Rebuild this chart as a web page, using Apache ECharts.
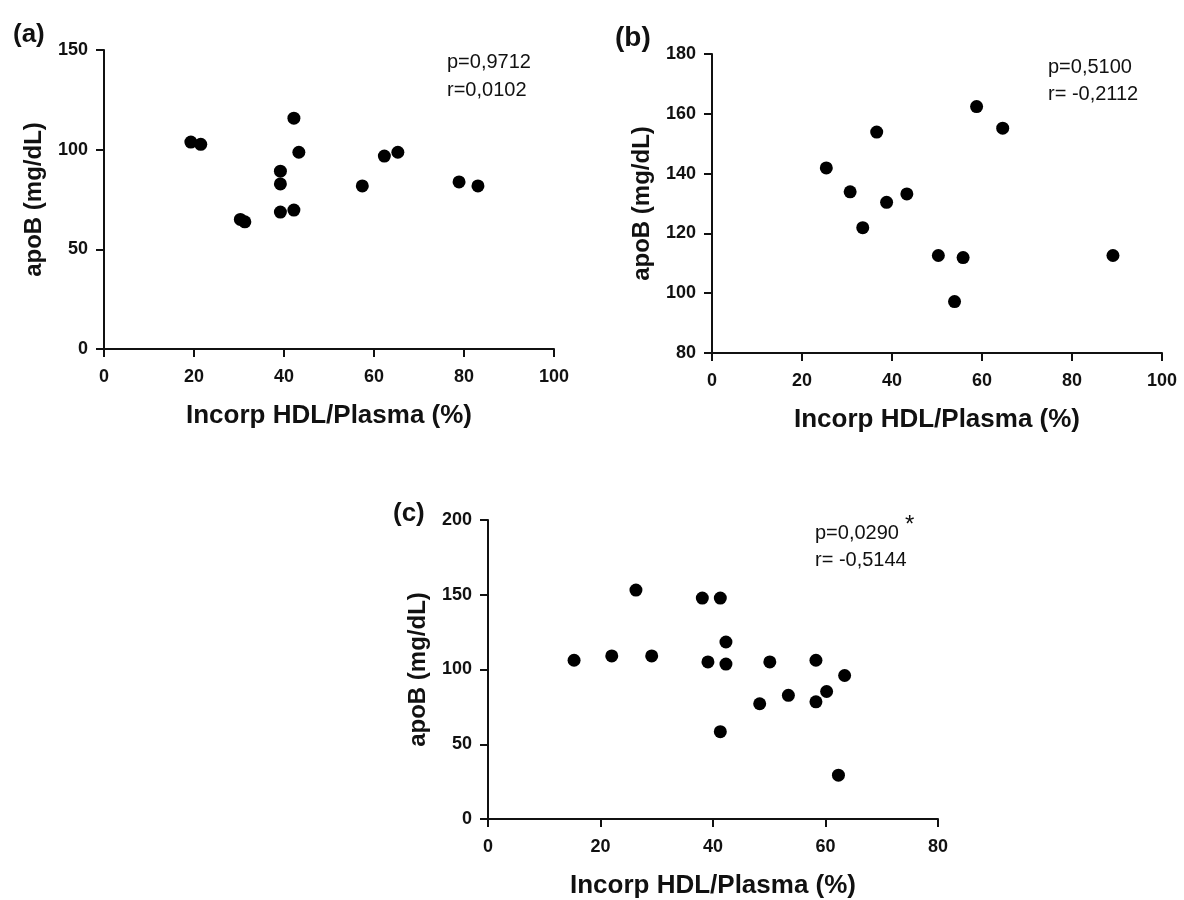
<!DOCTYPE html>
<html>
<head>
<meta charset="utf-8">
<script src="https://cdn.jsdelivr.net/npm/echarts@6/dist/echarts.min.js"></script>
<style>
  html, body { margin: 0; padding: 0; background: #fff; }
  #chart { width: 1184px; height: 900px; }
</style>
</head>
<body>
<div id="chart"></div>
<script>
// panel (a)
var aX = [19.3, 21.5, 30.3, 31.3, 39.2, 39.2, 39.2, 42.2, 42.2, 43.3, 57.4, 62.3, 65.3, 78.9, 83.1];
var aY = [103.8, 102.7, 65, 63.8, 89.2, 82.8, 68.7, 115.8, 69.7, 98.7, 81.8, 96.8, 98.7, 83.8, 81.8];
// panel (b)
var bX = [25.4, 30.7, 33.5, 36.6, 38.8, 43.3, 50.3, 53.9, 55.8, 58.8, 64.6, 89.1];
var bY = [141.9, 133.9, 121.9, 153.9, 130.4, 133.2, 112.6, 97.2, 111.9, 162.4, 155.2, 112.6];
// panel (c)
var cX = [15.3, 22.0, 26.3, 29.1, 38.1, 39.1, 41.3, 41.3, 42.3, 42.3, 48.3, 50.1, 53.4, 58.3, 58.3, 60.2, 63.4, 62.3];
var cY = [106.2, 109.1, 153.1, 109.1, 147.8, 105.1, 147.8, 58.4, 118.4, 103.6, 77.1, 105.1, 82.7, 106.2, 78.4, 85.3, 96.0, 29.3];

var panelLabels = ['(a)', '(b)', '(c)'];
var pTexts = ['p=0,9712', 'p=0,5100', 'p=0,0290'];
var rTexts = ['r=0,0102', 'r= -0,2112', 'r= -0,5144'];
var xName = 'Incorp HDL/Plasma (%)';
var yName = 'apoB (mg/dL)';

var FONT = "'Liberation Sans', Arial, sans-serif";
var INK = '#111';

function zip(xs, ys) {
    var out = [];
    for (var i = 0; i < xs.length; i++) out.push([xs[i], ys[i]]);
    return out;
}

function xAxisOf(idx, max) {
    return {
        type: 'value', gridIndex: idx, min: 0, max: max, interval: 20,
        name: xName, nameLocation: 'middle', nameGap: 54,
        nameTextStyle: { fontFamily: FONT, fontSize: 26, fontWeight: 'bold', color: INK },
        axisLine: { onZero: false, lineStyle: { color: '#111', width: 2 } },
        axisTick: { length: 8, lineStyle: { color: '#111', width: 2 } },
        axisLabel: { fontFamily: FONT, fontSize: 18, fontWeight: 'bold', color: INK, margin: 19 },
        splitLine: { show: false }
    };
}

function yAxisOf(idx, min, max, step) {
    return {
        type: 'value', gridIndex: idx, min: min, max: max, interval: step,
        name: yName, nameLocation: 'middle', nameGap: 58,
        nameTextStyle: { fontFamily: FONT, fontSize: 24, fontWeight: 'bold', color: INK },
        axisLine: { show: true, onZero: false, lineStyle: { color: '#111', width: 2 } },
        axisTick: { show: true, length: 8, lineStyle: { color: '#111', width: 2 } },
        axisLabel: { fontFamily: FONT, fontSize: 18, fontWeight: 'bold', color: INK, margin: 16 },
        splitLine: { show: false }
    };
}

function scatterOf(idx, xs, ys) {
    return {
        type: 'scatter', xAxisIndex: idx, yAxisIndex: idx,
        data: zip(xs, ys), symbol: 'circle', symbolSize: 13,
        itemStyle: { color: '#000', opacity: 1 }, silent: true
    };
}

function label(text, x, y, size, weight) {
    return {
        type: 'text', x: x, y: y, silent: true,
        style: { text: text, fill: INK, font: (weight || 'normal') + ' ' + size + 'px ' + FONT, verticalAlign: 'middle' }
    };
}

var chart = echarts.init(document.getElementById('chart'));
chart.setOption({
    backgroundColor: '#fff',
    animation: false,
    grid: [
        { left: 104, top: 50, width: 450, height: 299 },
        { left: 712, top: 54, width: 450, height: 299 },
        { left: 488, top: 520, width: 450, height: 300 }
    ],
    xAxis: [xAxisOf(0, 100), xAxisOf(1, 100), xAxisOf(2, 80)],
    yAxis: [yAxisOf(0, 0, 150, 50), yAxisOf(1, 80, 180, 20), yAxisOf(2, 0, 200, 50)],
    series: [scatterOf(0, aX, aY), scatterOf(1, bX, bY), scatterOf(2, cX, cY)],
    graphic: [
        label(panelLabels[0], 13, 35, 26, 'bold'),
        label(panelLabels[1], 615, 38, 28, 'bold'),
        label(panelLabels[2], 393, 514, 26, 'bold'),
        label(pTexts[0], 447, 62, 20),
        label(rTexts[0], 447, 90, 20),
        label(pTexts[1], 1048, 67, 20),
        label(rTexts[1], 1048, 94, 20),
        label(pTexts[2], 815, 533, 20),
        label('*', 905, 525, 24),
        label(rTexts[2], 815, 560, 20)
    ]
});
</script>
</body>
</html>
